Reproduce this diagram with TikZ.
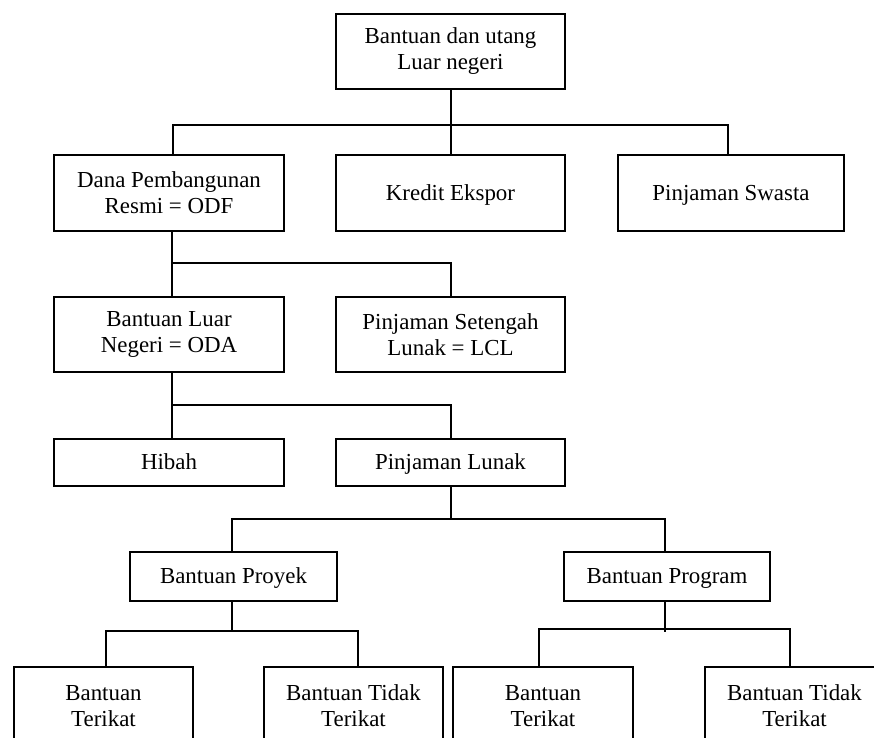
\documentclass[tikz,border=0pt]{standalone}
\usepackage{fontspec}
\setmainfont{Liberation Serif}
\begin{document}
\begin{tikzpicture}[x=1pt,y=-1pt,
  box/.style={draw, line width=1.3pt, inner sep=0pt, align=center,
    font=\fontsize{22.9}{26}\selectfont},
  onebox/.style={box, text height=17pt, text depth=3pt},
  conn/.style={draw, line width=1.2pt}]
\useasboundingbox (0,0) rectangle (874,737);
\clip (0,0) rectangle (874,737);
% row 1
\node[box, minimum width=229pt, minimum height=75pt] (top) at (450.5,51.5) {Bantuan dan utang\\Luar negeri};
% row 2
\node[box, minimum width=230pt, minimum height=76pt] (odf) at (169,193) {Dana Pembangunan\\Resmi = ODF};
\node[onebox, minimum width=229pt, minimum height=76pt] (kredit) at (450.5,193) {Kredit Ekspor};
\node[onebox, minimum width=226pt, minimum height=76pt] (swasta) at (731,193) {Pinjaman Swasta};
% row 3
\node[box, minimum width=230pt, minimum height=75pt] (oda) at (169,334.5) {Bantuan Luar\\Negeri = ODA};
\node[box, minimum width=229pt, minimum height=75pt] (lcl) at (450.5,334.5) {Pinjaman Setengah\\Lunak = LCL};
% row 4
\node[onebox, minimum width=230pt, minimum height=47pt] (hibah) at (169,462.5) {Hibah};
\node[onebox, minimum width=229pt, minimum height=47pt] (lunak) at (450.5,462.5) {Pinjaman Lunak};
% row 5
\node[onebox, minimum width=207pt, minimum height=49pt] (proyek) at (233.5,576.5) {Bantuan Proyek};
\node[onebox, minimum width=206pt, minimum height=49pt] (program) at (667,576.5) {Bantuan Program};
% row 6
\node[box, minimum width=179pt, minimum height=78pt] (t1) at (103.5,706) {Bantuan\\Terikat};
\node[box, minimum width=179pt, minimum height=78pt] (tt1) at (353.5,706) {Bantuan Tidak\\Terikat};
\node[box, minimum width=180pt, minimum height=78pt] (t2) at (543,706) {Bantuan\\Terikat};
\node[box, minimum width=179pt, minimum height=78pt] (tt2) at (794.5,706) {Bantuan Tidak\\Terikat};
% bus 1
\coordinate (b1l) at (173,125);
\coordinate (b1m) at (451,125);
\coordinate (b1r) at (728,125);
\draw[conn] (b1m |- top.south) -- (b1m |- kredit.north);
\draw[conn] (b1l |- odf.north) -- (b1l) -- (b1r) -- (b1r |- swasta.north);
% bus 2
\coordinate (b2l) at (172,263);
\coordinate (b2r) at (451,263);
\draw[conn] (b2l |- odf.south) -- (b2l |- oda.north);
\draw[conn] (b2l) -- (b2r) -- (b2r |- lcl.north);
% bus 3
\coordinate (b3l) at (172,405);
\coordinate (b3r) at (451,405);
\draw[conn] (b3l |- oda.south) -- (b3l |- hibah.north);
\draw[conn] (b3l) -- (b3r) -- (b3r |- lunak.north);
% bus 4
\coordinate (b4m) at (451,519);
\coordinate (b4l) at (232,519);
\coordinate (b4r) at (665,519);
\draw[conn] (b4m |- lunak.south) -- (b4m);
\draw[conn] (b4l |- proyek.north) -- (b4l) -- (b4r) -- (b4r |- program.north);
% bus 5
\coordinate (b5m) at (232,631);
\coordinate (b5l) at (106,631);
\coordinate (b5r) at (358,631);
\draw[conn] (b5m |- proyek.south) -- (b5m);
\draw[conn] (b5l |- t1.north) -- (b5l) -- (b5r) -- (b5r |- tt1.north);
% bus 6
\coordinate (b6m) at (665,632);
\coordinate (b6l) at (539,629);
\coordinate (b6r) at (790,629);
\draw[conn] (b6m |- program.south) -- (b6m);
\draw[conn] (b6l |- t2.north) -- (b6l) -- (b6r) -- (b6r |- tt2.north);
\end{tikzpicture}
\end{document}
